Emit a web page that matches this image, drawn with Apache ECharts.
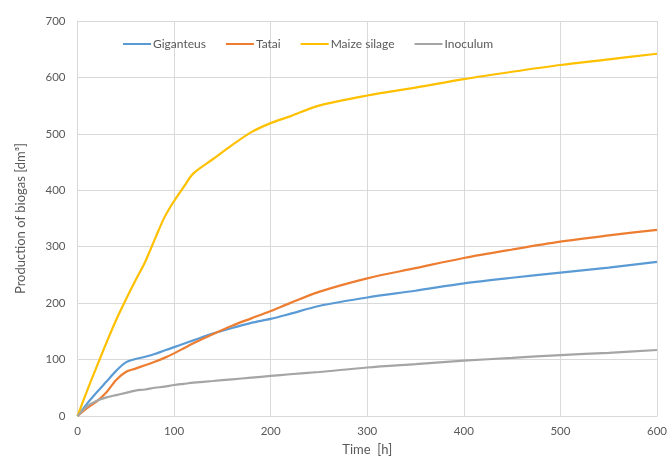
<!DOCTYPE html>
<html>
<head>
<meta charset="utf-8">
<script src="https://cdn.jsdelivr.net/npm/echarts@6/dist/echarts.min.js"></script>
<style>
html,body{margin:0;padding:0;background:#fff;}
#chart{width:670px;height:461px;}
</style>
</head>
<body>
<div id="chart"></div>
<script>
const times = [0, 10, 20, 30, 40, 50, 60, 70, 80, 90, 100, 110, 120, 140, 160, 180, 200, 220, 250, 300, 350, 400, 450, 500, 550, 600];
const giganteus = [0, 22, 42, 61, 80, 95, 101, 105, 110, 116, 122, 128, 134, 146, 156, 165, 172, 181, 195, 210, 222, 235, 245, 254, 263, 273];
const tatai = [0, 14, 26, 42, 64, 78, 84, 90, 96, 103, 111, 120, 129, 145, 160, 173, 186, 200, 220, 244, 262, 280, 295, 309, 320, 330];
const maize = [0, 45, 88, 130, 170, 206, 240, 273, 313, 352, 381, 406, 430, 455, 480, 503, 519, 531, 550, 568, 582, 597, 610, 622, 632, 642];
const inoculum = [0, 17, 27, 33, 37, 41, 45, 47, 50, 52, 55, 57, 59, 62, 65, 68, 71, 74, 78, 86, 92, 98, 103, 108, 112, 117];
const seriesNames = ['Giganteus', 'Tatai', 'Maize silage', 'Inoculum'];
const seriesValues = [giganteus, tatai, maize, inoculum];
const colors = ['#5B9BD5', '#ED7D31', '#FFC000', '#A5A5A5'];

const pair = arr => times.map((t, i) => [t, arr[i]]);
const chart = echarts.init(document.getElementById('chart'));
const font = 'Lato, "Open Sans", sans-serif';
chart.setOption({
  animation: false,
  color: colors,
  textStyle: {fontFamily: font},
  grid: {left: 77.5, right: 11, top: 21, bottom: 44},
  legend: {
    top: 33, left: 118,
    itemWidth: 28, itemHeight: 2, itemGap: 20,
    icon: 'rect',
    textStyle: {color: '#595959', fontSize: 12, fontFamily: font, padding: [0,0,0,-3]},
    data: seriesNames
  },
  xAxis: {
    type: 'value', min: 0, max: 600, interval: 100,
    name: 'Time  [h]', nameLocation: 'middle', nameGap: 27,
    nameTextStyle: {color: '#595959', fontSize: 13, fontFamily: font},
    axisLine: {show: true, lineStyle: {color: '#d9d9d9'}},
    axisTick: {show: false},
    axisLabel: {color: '#595959', fontSize: 11.5, margin: 9, fontFamily: font},
    splitLine: {show: true, lineStyle: {color: '#d9d9d9', width: 1}}
  },
  yAxis: {
    type: 'value', min: 0, max: 700, interval: 100,
    name: 'Production of biogas [dm\u00B3]', nameLocation: 'middle', nameGap: 50,
    nameTextStyle: {color: '#595959', fontSize: 13, fontFamily: font},
    axisLine: {show: true, lineStyle: {color: '#d9d9d9'}},
    axisTick: {show: false},
    axisLabel: {color: '#595959', fontSize: 11.5, margin: 12, fontFamily: font},
    splitLine: {show: true, lineStyle: {color: '#d9d9d9', width: 1}}
  },
  series: seriesNames.map((n, i) => ({
    name: n, type: 'line', data: pair(seriesValues[i]),
    smooth: 0.3, showSymbol: false, symbol: 'none',
    lineStyle: {width: 2.2, color: colors[i]}
  }))
});
</script>
</body>
</html>
